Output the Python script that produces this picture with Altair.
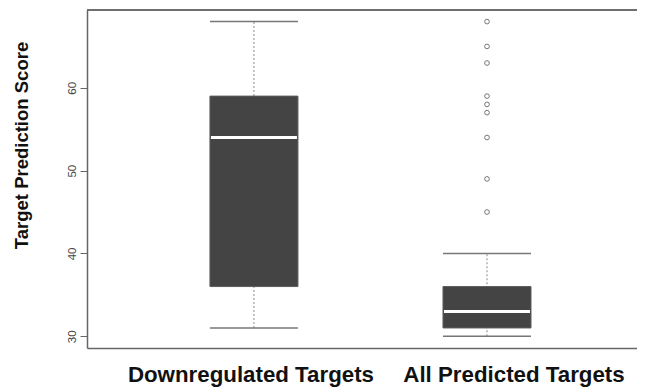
import altair as alt
import pandas as pd

# ---- data ----
categories = ["Downregulated Targets", "All Predicted Targets"]
lower_whisker = [31, 30]
q1 = [36, 31]
median = [54, 33]
q3 = [59, 36]
upper_whisker = [68, 40]
outlier_category = "All Predicted Targets"
outlier_values = [68, 65, 63, 59, 58, 57, 54, 49, 45]
y_ticks = [30, 40, 50, 60]
y_domain = [28.58, 69.4]
y_title = "Target Prediction Score"

box_df = pd.DataFrame({
    "category": categories,
    "lower": lower_whisker,
    "q1": q1,
    "median": median,
    "q3": q3,
    "upper": upper_whisker,
})
out_df = pd.DataFrame({
    "category": [outlier_category] * len(outlier_values),
    "value": outlier_values,
})

FONT = "Liberation Sans"
x_scale = alt.Scale(domain=categories, paddingInner=0, paddingOuter=0.18, align=0.601)
y_scale = alt.Scale(domain=y_domain, nice=False, zero=False)

x_bottom = alt.Axis(
    orient="bottom", title=None, ticks=False, domain=True, grid=False,
    domainColor="#666666", domainWidth=1.5, labelAngle=0,
    labelFont=FONT, labelFontSize=22.3, labelFontWeight="bold", labelColor="#111111",
    labelBaseline="alphabetic", labelPadding=33, labelLimit=400, labelOverlap=False,
    labelOffset={"condition": {"test": f"datum.value === '{categories[1]}'", "value": 27}, "value": -3},
)
y_axis = alt.Axis(
    title=y_title, values=y_ticks, grid=False,
    tickSize=7, tickColor="#666666", tickWidth=1,
    domainColor="#666666", domainWidth=1.5,
    labelAngle=270, labelAlign="center", labelBaseline="alphabetic", labelPadding=5,
    labelFont=FONT, labelFontSize=11.5, labelColor="#444444",
    titleFont=FONT, titleFontSize=18.5, titleFontWeight="bold", titleColor="#111111",
    titleAngle=270, titleAlign="center", titleBaseline="alphabetic",
    titleX=-60, titleY=135,
)


def xenc():
    return alt.X("category:N", scale=x_scale, axis=x_bottom, sort=categories)


def yenc(field):
    return alt.Y(field, scale=y_scale, axis=y_axis)


base = alt.Chart(box_df)

whisker = base.mark_rule(color="#888888", strokeWidth=1, strokeDash=[2, 2]).encode(
    x=xenc(), y=yenc("lower:Q"), y2="upper:Q",
)
box = base.mark_bar(size=88, color="#444444", stroke="#5c5c5c", strokeWidth=1).encode(
    x=xenc(), y=yenc("q1:Q"), y2="q3:Q",
)
med = base.mark_tick(orient="horizontal", size=86, thickness=3, color="white",
                     opacity=1).encode(x=xenc(), y=yenc("median:Q"))
cap_hi = base.mark_tick(orient="horizontal", size=88, thickness=1.5, color="#777777",
                        opacity=1).encode(x=xenc(), y=yenc("upper:Q"))
cap_lo = base.mark_tick(orient="horizontal", size=88, thickness=1.5, color="#777777",
                        opacity=1).encode(x=xenc(), y=yenc("lower:Q"))
outliers = alt.Chart(out_df).mark_point(shape="circle", filled=False, size=22,
                                         color="#777777", strokeWidth=1, opacity=1).encode(
    x=xenc(), y=yenc("value:Q"),
)
# top frame line at the upper end of the value scale
top_frame = alt.Chart(box_df).mark_rule(color="#666666", strokeWidth=1.5).encode(
    y=alt.Y(datum=y_domain[1], type="quantitative", scale=y_scale, axis=y_axis),
)

chart = alt.layer(whisker, box, med, cap_hi, cap_lo, outliers, top_frame).properties(
    width=550, height=338,
    autosize=alt.AutoSizeParams(type="none"),
    padding={"left": 79, "top": 2, "right": 0, "bottom": 40},
    background="white",
).configure_view(stroke=None)

chart.save("out.html", embed_options={"renderer": "svg", "actions": False})
